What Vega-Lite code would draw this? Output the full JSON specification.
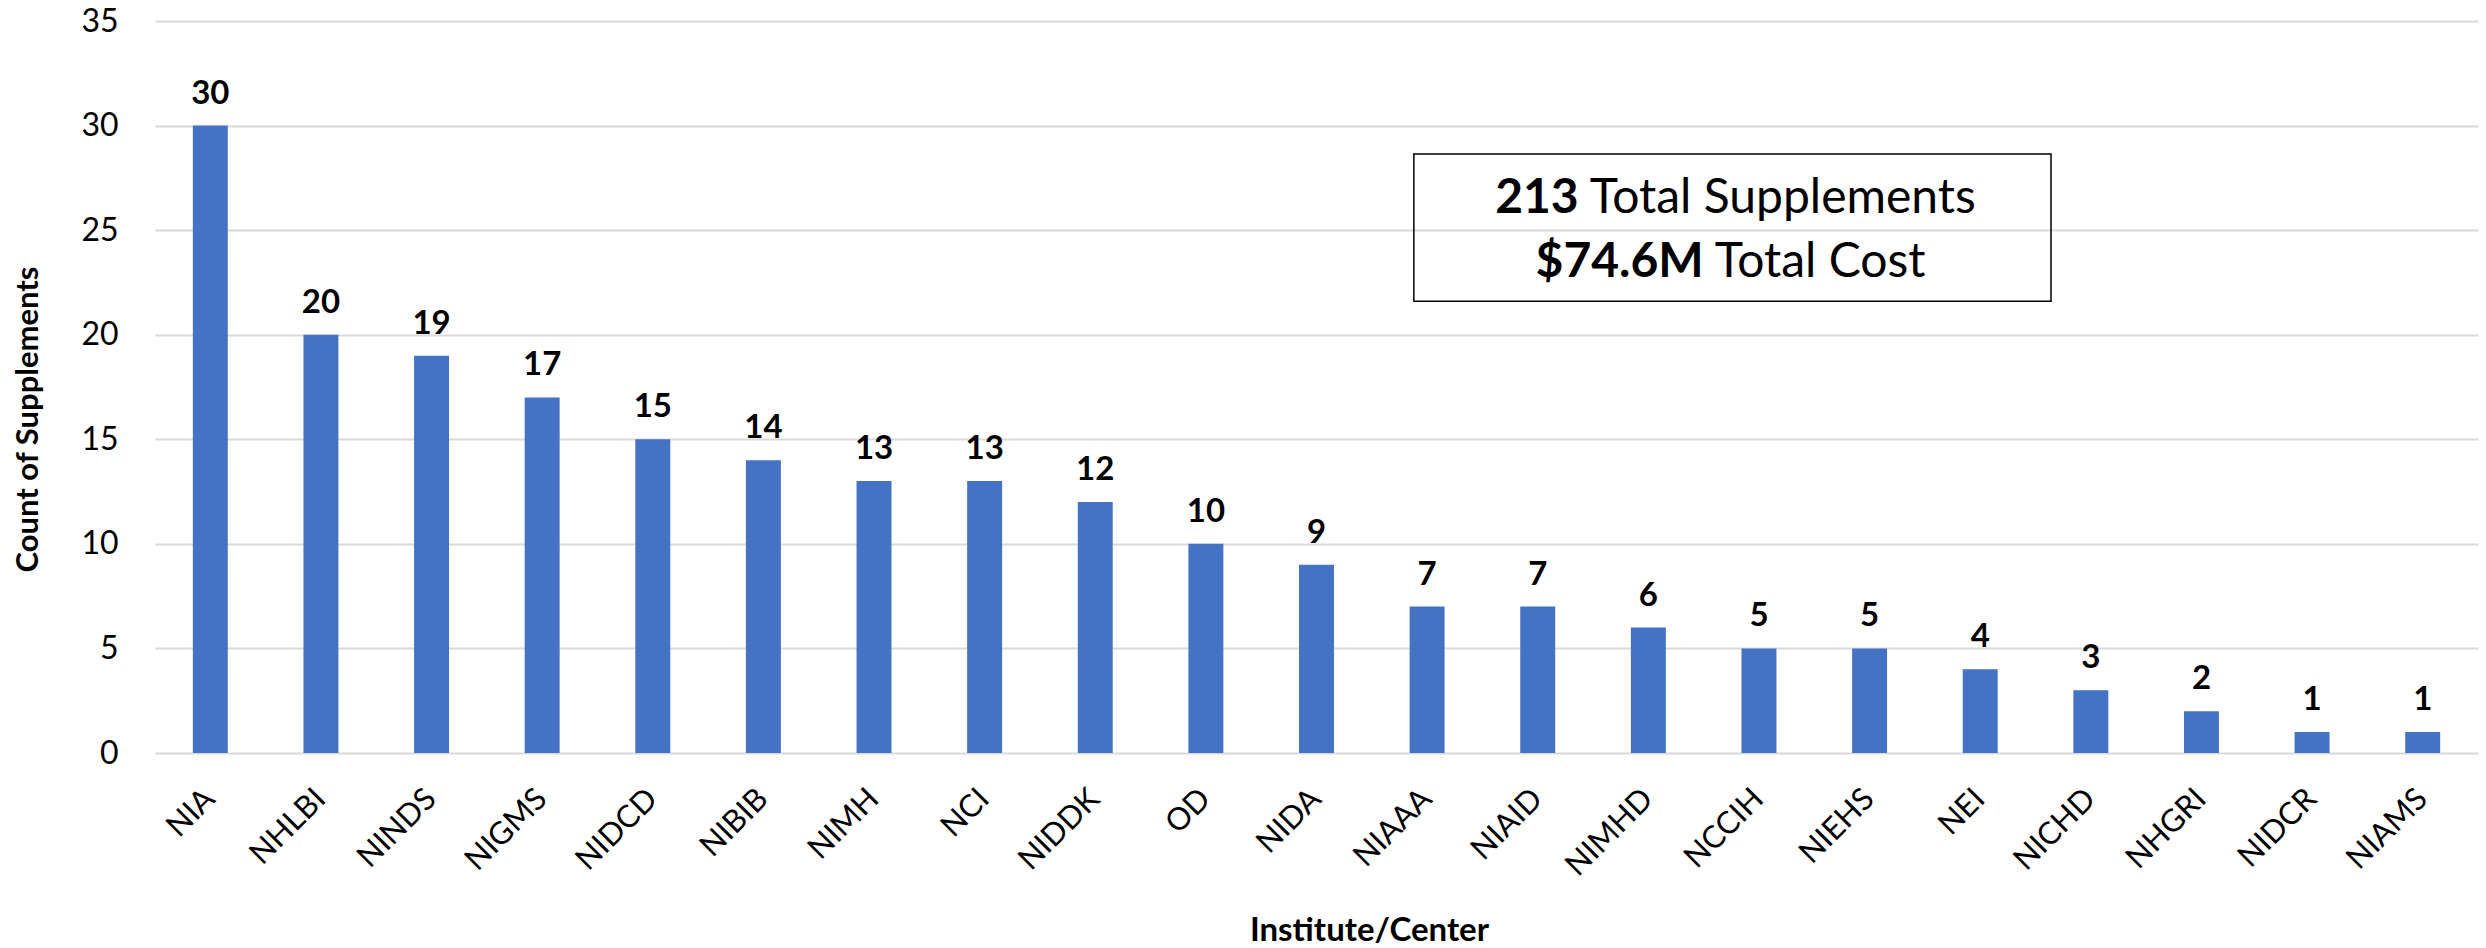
{
  "$schema": "https://vega.github.io/schema/vega-lite/v6.json",
  "width": 2323,
  "height": 732,
  "autosize": {"type": "none"},
  "padding": {"left": 155, "top": 21, "right": 8, "bottom": 195},
  "background": "white",
  "config": {
    "view": {"stroke": null},
    "font": "Lato",
    "axis": {"labelFont": "Lato", "titleFont": "Lato"}
  },
  "datasets": {
    "bars": [
      {"ic": "NIA", "n": 30}, {"ic": "NHLBI", "n": 20}, {"ic": "NINDS", "n": 19},
      {"ic": "NIGMS", "n": 17}, {"ic": "NIDCD", "n": 15}, {"ic": "NIBIB", "n": 14},
      {"ic": "NIMH", "n": 13}, {"ic": "NCI", "n": 13}, {"ic": "NIDDK", "n": 12},
      {"ic": "OD", "n": 10}, {"ic": "NIDA", "n": 9}, {"ic": "NIAAA", "n": 7},
      {"ic": "NIAID", "n": 7}, {"ic": "NIMHD", "n": 6}, {"ic": "NCCIH", "n": 5},
      {"ic": "NIEHS", "n": 5}, {"ic": "NEI", "n": 4}, {"ic": "NICHD", "n": 3},
      {"ic": "NHGRI", "n": 2}, {"ic": "NIDCR", "n": 1}, {"ic": "NIAMS", "n": 1}
    ],
    "box": [{"x1": 11.38, "x2": 17.14, "y1": 28.64, "y2": 21.6}],
    "boldText": [
      {"x": 12.87, "y": 25.82, "t": "213"},
      {"x": 14.0, "y": 22.76, "t": "$74.6M"}
    ],
    "regText": [
      {"x": 12.97, "y": 25.82, "t": "Total Supplements"},
      {"x": 14.1, "y": 22.76, "t": "Total Cost"}
    ]
  },
  "layer": [
    {
      "data": {"name": "bars"},
      "layer": [
        {
          "mark": {"type": "bar", "color": "#4472C4"},
          "encoding": {
            "x": {
              "field": "ic", "type": "nominal", "sort": null,
              "scale": {"paddingInner": 0.684, "paddingOuter": 0.342},
              "axis": {
                "title": "Institute/Center",
                "titleFontSize": 33, "titleFontWeight": "bold", "titleColor": "#000000",
                "titleX": 1214, "titleY": 187, "titleBaseline": "alphabetic",
                "labelAngle": -45, "labelAlign": "right", "labelBaseline": "middle",
                "labelFontSize": 31, "labelColor": "#000000", "labelPadding": 41,
                "ticks": false, "domain": false, "grid": false
              }
            },
            "y": {
              "field": "n", "type": "quantitative",
              "scale": {"domain": [0, 35], "nice": false},
              "axis": {
                "values": [0, 5, 10, 15, 20, 25, 30, 35],
                "title": "Count of Supplements",
                "titleFontSize": 31, "titleFontWeight": "bold", "titleColor": "#000000",
                "titleX": -127, "titleY": 398, "titleBaseline": "middle", "titleAngle": -90,
                "labelFontSize": 32, "labelColor": "#000000", "labelPadding": 37,
                "ticks": false, "domain": false,
                "grid": true, "gridColor": "#d9d9d9", "gridWidth": 2
              }
            }
          }
        },
        {
          "mark": {"type": "text", "fontWeight": "bold", "fontSize": 33, "color": "#000000", "baseline": "alphabetic", "dy": -22},
          "encoding": {
            "x": {"field": "ic", "type": "nominal", "sort": null},
            "y": {"field": "n", "type": "quantitative"},
            "text": {"field": "n", "type": "quantitative"}
          }
        }
      ]
    },
    {
      "data": {"name": "box"},
      "mark": {"type": "rect", "fill": null, "fillOpacity": 0, "stroke": "#000000", "strokeWidth": 1.5},
      "encoding": {
        "x": {"field": "x1", "type": "quantitative", "scale": {"domain": [0, 21], "nice": false, "zero": false}, "axis": null},
        "x2": {"field": "x2"},
        "y": {"field": "y1", "type": "quantitative"},
        "y2": {"field": "y2"}
      }
    },
    {
      "data": {"name": "boldText"},
      "mark": {"type": "text", "fontWeight": "bold", "fontSize": 48, "align": "right", "baseline": "alphabetic", "color": "#000000"},
      "encoding": {
        "x": {"field": "x", "type": "quantitative", "scale": {"domain": [0, 21], "nice": false, "zero": false}, "axis": null},
        "y": {"field": "y", "type": "quantitative"},
        "text": {"field": "t"}
      }
    },
    {
      "data": {"name": "regText"},
      "mark": {"type": "text", "fontWeight": "normal", "fontSize": 48, "align": "left", "baseline": "alphabetic", "color": "#000000"},
      "encoding": {
        "x": {"field": "x", "type": "quantitative", "scale": {"domain": [0, 21], "nice": false, "zero": false}, "axis": null},
        "y": {"field": "y", "type": "quantitative"},
        "text": {"field": "t"}
      }
    }
  ],
  "resolve": {"scale": {"x": "independent"}}
}
